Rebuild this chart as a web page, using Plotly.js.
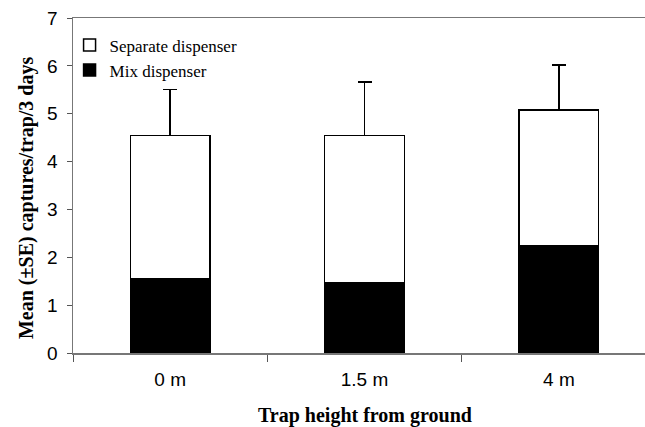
<!DOCTYPE html>
<html>
<head>
<meta charset="utf-8">
<script src="https://cdn.plot.ly/plotly-3.0.1.min.js"></script>
<style>html,body{margin:0;padding:0;background:#fff;}#chart{width:645px;height:427px;}</style>
</head>
<body>
<div id="chart"></div>
<script>
var categories = ["0 m", "1.5 m", "4 m"];
var mixValues = [1.55, 1.46, 2.24];
var separateValues = [3.00, 3.09, 2.84];
var seTotals = [0.96, 1.11, 0.94];
var yTickValues = [0, 1, 2, 3, 4, 5, 6, 7];
var seriesNames = ["Mix dispenser", "Separate dispenser"];

var serif = '"Times New Roman", "Liberation Serif", serif';
var sans = 'Arial, "Liberation Sans", sans-serif';

var traces = [
  {
    type: "bar", name: seriesNames[0], x: categories, y: mixValues,
    width: 0.41,
    marker: {color: "#000000", line: {color: "#000000", width: 1.5}}
  },
  {
    type: "bar", name: seriesNames[1], x: categories, y: separateValues,
    width: 0.41,
    marker: {color: "#ffffff", line: {color: "#000000", width: 1.5}},
    error_y: {type: "data", array: seTotals, symmetric: false, arrayminus: [0,0,0],
              color: "#000000", thickness: 1.5, width: 7}
  }
];

var layout = {
  width: 645, height: 427,
  margin: {l: 73, r: 0, t: 18, b: 74, pad: 0},
  paper_bgcolor: "#ffffff", plot_bgcolor: "#ffffff",
  barmode: "stack",
  showlegend: true,
  legend: {
    x: -0.006, xanchor: "left", y: 0.972, yanchor: "top",
    bgcolor: "rgba(0,0,0,0)", font: {family: serif, size: 17, color: "#000"},
    tracegroupgap: 0
  },
  xaxis: {
    type: "category", range: [-0.5, 2.443],
    showline: true, linecolor: "#777777", linewidth: 1.5, mirror: true,
    ticks: "outside", tickson: "boundaries", ticklen: 7, tickcolor: "#555555", tickwidth: 1,
    showgrid: false, zeroline: false,
    tickfont: {family: sans, size: 19, color: "#000"},
    ticklabelstandoff: 9
  },
  yaxis: {
    range: [0, 7], tickvals: yTickValues,
    showline: true, linecolor: "#777777", linewidth: 1.5,
    ticks: "outside", ticklen: 5, tickcolor: "#555555", tickwidth: 1,
    showgrid: false, zeroline: false,
    tickfont: {family: sans, size: 19, color: "#000"},
    ticklabelstandoff: 5
  },
  annotations: [
    {text: "<b>Mean (±SE) captures/trap/3 days</b>", xref: "paper", yref: "paper",
     x: -0.0804, y: 0.4627, xanchor: "center", yanchor: "middle", textangle: -90,
     showarrow: false, font: {family: serif, size: 20, color: "#000"}},
    {text: "<b>Trap height from ground</b>", xref: "paper", yref: "paper",
     x: 0.5105, y: -0.188, xanchor: "center", yanchor: "middle",
     showarrow: false, font: {family: serif, size: 20, color: "#000"}}
  ]
};

Plotly.newPlot("chart", traces, layout, {displayModeBar: false, staticPlot: true});
</script>
</body>
</html>
